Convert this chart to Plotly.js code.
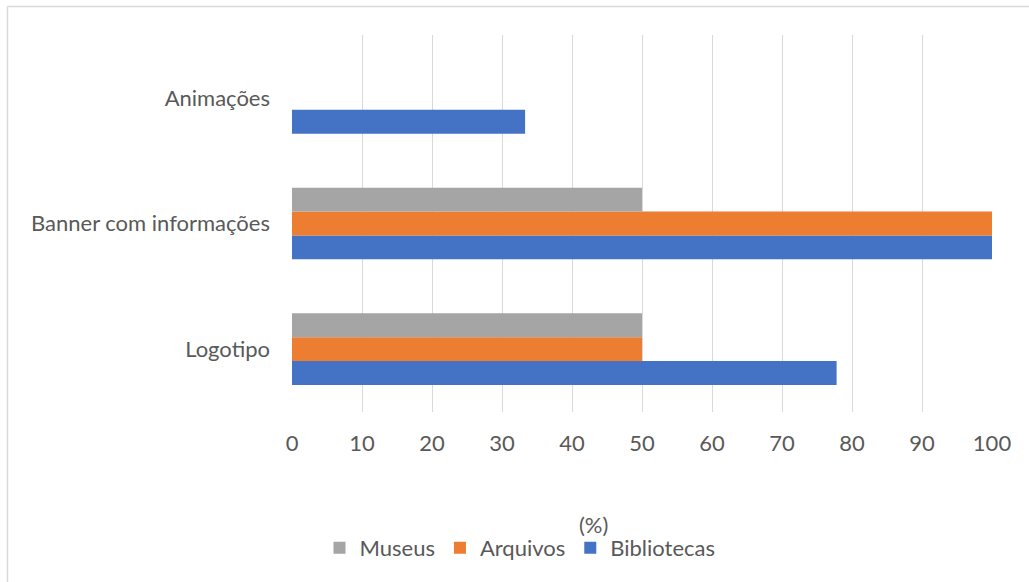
<!DOCTYPE html>
<html>
<head>
<meta charset="utf-8">
<script src="https://cdn.plot.ly/plotly-3.0.1.min.js"></script>
<style>
  html, body { margin: 0; padding: 0; background: #fff; }
  #chart { width: 1029px; height: 582px; }
</style>
</head>
<body>
<div id="chart"></div>
<script>
// Categories, bottom to top
const categories = ['Logotipo', 'Banner com informações', 'Animações'];

// Percentages per institution type
const bibliotecas = [77.8, 100, 33.3];
const arquivos = [50, 100, 0];
const museus = [50, 50, 0];

const xTicks = [0, 10, 20, 30, 40, 50, 60, 70, 80, 90, 100];
const xTitle = '(%)';

const textColor = '#595959';
const gridColor = '#d9d9d9';
const fontFamily = 'Lato, "Open Sans", sans-serif';
const fontSize = 22;

const traces = [
  { name: 'Bibliotecas', x: bibliotecas, y: categories, color: '#4472C4' },
  { name: 'Arquivos', x: arquivos, y: categories, color: '#ED7D31' },
  { name: 'Museus', x: museus, y: categories, color: '#A5A5A5' }
].map(s => ({
  type: 'bar',
  orientation: 'h',
  name: s.name,
  x: s.x,
  y: s.y,
  marker: { color: s.color, line: { width: 0 } },
  hoverinfo: 'x+name'
}));

// Plot area: left 292, right 992, top 35, bottom 412 (pixels)
const W = 1029, H = 582;
const L = 292, R = 992, T = 35, B = 412;
const px = v => (v - L) / (R - L);
const py = v => (B - v) / (B - T);

const layout = {
  width: W,
  height: H,
  margin: { l: L, r: W - R, t: T, b: H - B, pad: 0 },
  paper_bgcolor: '#ffffff',
  plot_bgcolor: '#ffffff',
  font: { family: fontFamily, size: fontSize, color: textColor },
  barmode: 'group',
  bargap: 0.43,
  bargroupgap: 0,
  showlegend: true,
  legend: {
    orientation: 'h',
    traceorder: 'reversed',
    x: px(520),
    xanchor: 'center',
    y: py(548),
    yanchor: 'middle',
    font: { family: fontFamily, size: fontSize, color: textColor },
    itemwidth: 30
  },
  xaxis: {
    range: [0, 100],
    tickvals: xTicks,
    ticktext: xTicks.map(String),
    showgrid: true,
    gridcolor: gridColor,
    gridwidth: 1,
    zeroline: false,
    showline: false,
    ticks: '',
    ticklabelstandoff: 16,
    tickfont: { family: fontFamily, size: fontSize, color: textColor },
    fixedrange: true
  },
  yaxis: {
    type: 'category',
    categoryorder: 'array',
    categoryarray: categories,
    range: [-0.5, 2.5],
    showgrid: false,
    zeroline: false,
    showline: false,
    ticks: '',
    ticklabelstandoff: 21,
    tickfont: { family: fontFamily, size: fontSize, color: textColor },
    fixedrange: true
  },
  annotations: [
    // Value-axis caption
    {
      text: xTitle, xref: 'paper', yref: 'paper',
      x: px(593), y: py(524), xanchor: 'center', yanchor: 'middle',
      showarrow: false, font: { family: fontFamily, size: fontSize, color: textColor }
    }
  ],
  shapes: [
    // Chart frame (top and left edges)
    { type: 'line', xref: 'paper', yref: 'paper', x0: px(7.5), x1: px(W + 5), y0: py(6.5), y1: py(6.5), line: { color: gridColor, width: 1.5 } },
    { type: 'line', xref: 'paper', yref: 'paper', x0: px(7.5), x1: px(7.5), y0: py(6.5), y1: py(H + 5), line: { color: gridColor, width: 1.5 } }
  ]
};

Plotly.newPlot('chart', traces, layout, { displayModeBar: false, staticPlot: true });
</script>
</body>
</html>
